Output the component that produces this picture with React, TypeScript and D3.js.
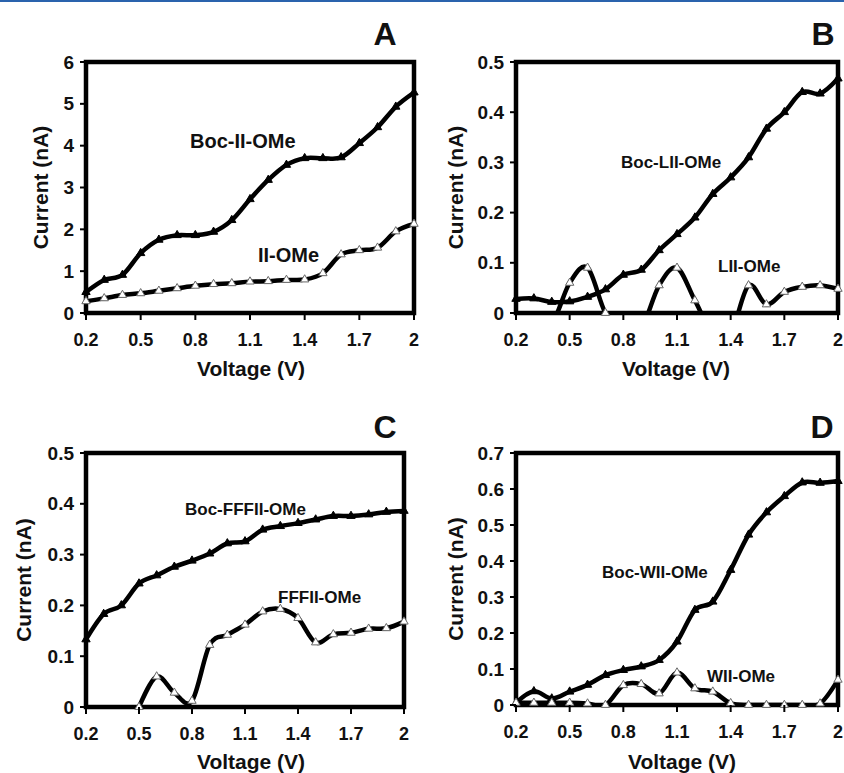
import React from "react";
import * as d3 from "d3";

// categories on the voltage axis (V)
const voltages = ["0.2", "0.3", "0.4", "0.5", "0.6", "0.7", "0.8", "0.9", "1", "1.1", "1.2", "1.3", "1.4", "1.5", "1.6", "1.7", "1.8", "1.9", "2"];
const xTickLabels = ["0.2", "0.5", "0.8", "1.1", "1.4", "1.7", "2"];

// panel A (nA)
const bocIIOMe = [0.5, 0.79, 0.91, 1.43, 1.75, 1.86, 1.86, 1.94, 2.22, 2.72, 3.18, 3.54, 3.7, 3.7, 3.72, 4.06, 4.44, 4.93, 5.27];
const iiOMe = [0.28, 0.35, 0.43, 0.47, 0.53, 0.59, 0.65, 0.69, 0.71, 0.75, 0.76, 0.79, 0.8, 0.95, 1.4, 1.5, 1.56, 1.95, 2.13];
const yTicksA = [0, 1, 2, 3, 4, 5, 6];

// panel B (nA)
const bocLIIOMe = [0.028, 0.029, 0.022, 0.023, 0.032, 0.047, 0.076, 0.086, 0.125, 0.157, 0.19, 0.237, 0.27, 0.31, 0.367, 0.4, 0.44, 0.437, 0.467];
const liiOMe = [-0.01, -0.01, -0.02, 0.06, 0.09, 0, -0.03, -0.03, 0.055, 0.09, 0.025, -0.04, -0.04, 0.055, 0.017, 0.042, 0.052, 0.055, 0.048];
const yTicksB = [0, 0.1, 0.2, 0.3, 0.4, 0.5];

// panel C (nA)
const bocFFFIIOMe = [0.133, 0.183, 0.2, 0.243, 0.259, 0.276, 0.288, 0.302, 0.322, 0.326, 0.349, 0.356, 0.362, 0.369, 0.376, 0.376, 0.379, 0.384, 0.386];
const fffiiOMe = [null, null, null, 0, 0.06, 0.028, 0.012, 0.122, 0.142, 0.162, 0.188, 0.193, 0.175, 0.127, 0.143, 0.146, 0.154, 0.155, 0.168];
const yTicksC = [0, 0.1, 0.2, 0.3, 0.4, 0.5];

// panel D (nA)
const bocWIIOMe = [0.006, 0.038, 0.018, 0.037, 0.056, 0.083, 0.097, 0.107, 0.125, 0.176, 0.264, 0.287, 0.375, 0.473, 0.535, 0.58, 0.618, 0.617, 0.622];
const wiiOMe = [0.006, 0.006, 0.006, 0.006, 0.004, 0, 0.055, 0.058, 0.032, 0.09, 0.046, 0.037, 0.005, 0, 0, 0, 0, 0.004, 0.07];
const yTicksD = [0, 0.1, 0.2, 0.3, 0.4, 0.5, 0.6, 0.7];

const FONT = "'Liberation Sans', Arial, sans-serif";

type Series = { values: (number | null)[]; filled: boolean };

type PanelProps = {
  id: string;
  letter: string;
  box: { x0: number; x1: number; y0: number; y1: number };
  yMax: number;
  yTicks: number[];
  series: Series[];
  labels: { text: string; x: number; y: number; size: number }[];
  letterX: number;
  letterY: number;
  yTitleX: number;
  xTitleX: number;
  xTitleY: number;
};

const Panel = (p: PanelProps) => {
  const { box } = p;
  const x = d3.scalePoint().domain(voltages).range([box.x0, box.x1]);
  const y = d3.scaleLinear().domain([0, p.yMax]).range([box.y1, box.y0]);
  const fmt = (v: number) => (p.yMax >= 2 ? String(v) : v === 0 ? "0" : d3.format(".1f")(v));

  const line = d3
    .line<number | null>()
    .defined((d) => d !== null)
    .x((_, i) => x(voltages[i]) as number)
    .y((d) => y(d as number))
    .curve(d3.curveCardinal.tension(0));

  const tri = d3.symbol(d3.symbolTriangle, 30)();
  const clipId = `clip-${p.id}`;

  return (
    <g>
      <defs>
        <clipPath id={clipId}>
          <rect x={box.x0} y={box.y0} width={box.x1 - box.x0} height={box.y1 - box.y0} />
        </clipPath>
      </defs>

      {/* series lines */}
      {p.series.map((s, k) => (
        <path key={k} d={line(s.values) || ""} fill="none" stroke="#000" strokeWidth={4.5} strokeLinejoin="round" clipPath={`url(#${clipId})`} />
      ))}

      {/* frame */}
      <rect x={box.x0} y={box.y0} width={box.x1 - box.x0} height={box.y1 - box.y0} fill="none" stroke="#000" strokeWidth={4.5} />

      {/* markers */}
      {p.series.map((s, k) =>
        s.values.map((v, i) =>
          v === null || v < 0 ? null : (
            <path
              key={`${k}-${i}`}
              d={tri || ""}
              transform={`translate(${x(voltages[i])},${y(v)})`}
              fill={s.filled ? "#000" : "#fff"}
              stroke={s.filled ? "#000" : "#666"}
              strokeWidth={1}
            />
          )
        )
      )}

      {/* y axis */}
      {p.yTicks.map((t) => (
        <g key={t}>
          <line x1={box.x0 - 6} x2={box.x0} y1={y(t)} y2={y(t)} stroke="#000" strokeWidth={2} />
          <text x={box.x0 - 12} y={y(t)} dy="0.35em" textAnchor="end" fontSize={19} fontWeight="bold" fontFamily={FONT} fill="#111">
            {fmt(t)}
          </text>
        </g>
      ))}

      {/* x axis */}
      {xTickLabels.map((t) => (
        <g key={t}>
          <line x1={x(t)} x2={x(t)} y1={box.y1} y2={box.y1 + 7} stroke="#000" strokeWidth={2} />
          <text x={x(t)} y={box.y1 + 33} textAnchor="middle" fontSize={18} fontWeight="bold" fontFamily={FONT} fill="#111">
            {t}
          </text>
        </g>
      ))}

      <text x={p.xTitleX} y={p.xTitleY} textAnchor="middle" fontSize={21} fontWeight="bold" fontFamily={FONT} fill="#111">
        Voltage (V)
      </text>
      <text
        transform={`translate(${p.yTitleX},${(box.y0 + box.y1) / 2}) rotate(-90)`}
        textAnchor="middle"
        fontSize={21}
        fontWeight="bold"
        fontFamily={FONT}
        fill="#111"
      >
        Current (nA)
      </text>

      {p.labels.map((l) => (
        <text key={l.text} x={l.x} y={l.y} fontSize={l.size} fontWeight="bold" fontFamily={FONT} fill="#111">
          {l.text}
        </text>
      ))}

      <text x={p.letterX} y={p.letterY} textAnchor="middle" fontSize={32} fontWeight="bold" fontFamily={FONT} fill="#111">
        {p.letter}
      </text>
    </g>
  );
};

export default function App() {
  return (
    <svg width={844} height={773} style={{ position: "absolute", left: 0, top: 0, background: "#fff" }}>
      <rect x={0} y={0} width={844} height={773} fill="#fff" />
      <rect x={0} y={0} width={844} height={2} fill="#2a63ad" />

      <Panel
        id="a"
        letter="A"
        box={{ x0: 86, x1: 414, y0: 62, y1: 313 }}
        yMax={6}
        yTicks={yTicksA}
        series={[
          { values: bocIIOMe, filled: true },
          { values: iiOMe, filled: false },
        ]}
        labels={[
          { text: "Boc-II-OMe", x: 190, y: 148, size: 20 },
          { text: "II-OMe", x: 258, y: 262, size: 20 },
        ]}
        letterX={385}
        letterY={45}
        yTitleX={48}
        xTitleX={251}
        xTitleY={376}
      />
      <Panel
        id="b"
        letter="B"
        box={{ x0: 516, x1: 838, y0: 62, y1: 313 }}
        yMax={0.5}
        yTicks={yTicksB}
        series={[
          { values: bocLIIOMe, filled: true },
          { values: liiOMe, filled: false },
        ]}
        labels={[
          { text: "Boc-LII-OMe", x: 621, y: 168, size: 17 },
          { text: "LII-OMe", x: 718, y: 272, size: 17 },
        ]}
        letterX={823}
        letterY={45}
        yTitleX={463}
        xTitleX={676}
        xTitleY={376}
      />
      <Panel
        id="c"
        letter="C"
        box={{ x0: 86, x1: 404, y0: 453, y1: 707 }}
        yMax={0.5}
        yTicks={yTicksC}
        series={[
          { values: bocFFFIIOMe, filled: true },
          { values: fffiiOMe, filled: false },
        ]}
        labels={[
          { text: "Boc-FFFII-OMe", x: 185, y: 515, size: 17 },
          { text: "FFFII-OMe", x: 278, y: 603, size: 17 },
        ]}
        letterX={385}
        letterY={438}
        yTitleX={31}
        xTitleX={251}
        xTitleY={769}
      />
      <Panel
        id="d"
        letter="D"
        box={{ x0: 516, x1: 838, y0: 453, y1: 705 }}
        yMax={0.7}
        yTicks={yTicksD}
        series={[
          { values: bocWIIOMe, filled: true },
          { values: wiiOMe, filled: false },
        ]}
        labels={[
          { text: "Boc-WII-OMe", x: 602, y: 578, size: 17 },
          { text: "WII-OMe", x: 707, y: 682, size: 17 },
        ]}
        letterX={822}
        letterY={438}
        yTitleX={463}
        xTitleX={682}
        xTitleY={769}
      />
    </svg>
  );
}
